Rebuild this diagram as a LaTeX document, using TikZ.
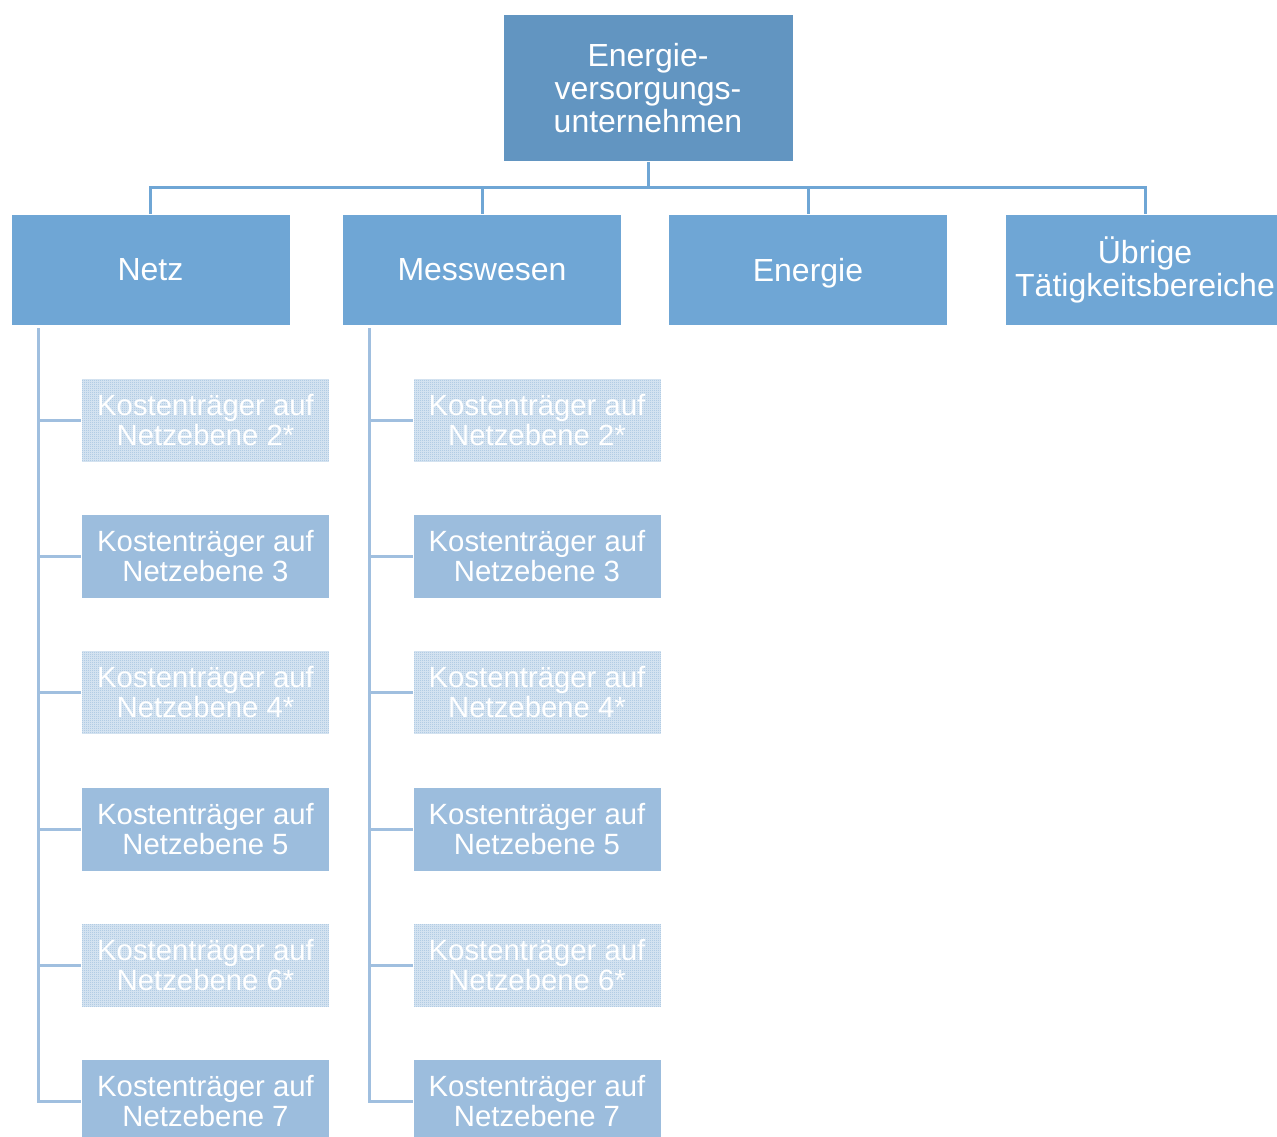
\documentclass[tikz,border=0pt]{standalone}
\usepackage{fontspec}
\setmainfont{Liberation Sans}
\usetikzlibrary{patterns}
\definecolor{evublau}{RGB}{98,149,193}
\definecolor{bereichblau}{RGB}{111,166,213}
\definecolor{ktblau}{RGB}{156,189,221}
\definecolor{baumblau}{RGB}{160,191,223}
\pgfdeclarepatternformonly{schach}{\pgfqpoint{0pt}{0pt}}{\pgfqpoint{2pt}{2pt}}{\pgfqpoint{2pt}{2pt}}{
  \pgfpathrectangle{\pgfqpoint{0pt}{0pt}}{\pgfqpoint{1pt}{1pt}}
  \pgfpathrectangle{\pgfqpoint{1pt}{1pt}}{\pgfqpoint{1pt}{1pt}}
  \pgfusepath{fill}}
\tikzset{
  evubox/.style={fill=evublau,draw=white,line width=0.6pt,text=white,align=center,
    minimum width=290,minimum height=147,inner sep=0pt,
    font=\fontsize{32}{33}\selectfont},
  bereich/.style={fill=bereichblau,draw=white,line width=0.6pt,text=white,align=center,
    minimum width=279,minimum height=111,inner sep=0pt,
    font=\fontsize{32}{33}\selectfont},
  ktbox/.style={fill=ktblau,draw=white,line width=0.6pt,text=white,align=center,
    minimum width=248,minimum height=84,inner sep=0pt,
    font=\fontsize{29.3}{30}\selectfont},
  ktgrau/.style={ktbox,fill=none,preaction={fill=ktblau!35!white},pattern=schach,pattern color=ktblau},
  stamm/.style={draw=bereichblau,line width=3pt},
  ast/.style={draw=baumblau,line width=3pt}
}
\begin{document}
\begin{tikzpicture}[x=1pt,y=-1pt,line cap=butt,line join=miter]
            \useasboundingbox (0,0) rectangle (1277,1137);
            \node[evubox] (evu) at (648,88) {Energie-\\versorgungs-\\unternehmen};
            \node[bereich] (netz) at (150.5,269.5) {Netz};
            \node[bereich] (mess) at (482,269.5) {Messwesen};
            \node[bereich,text depth=0pt] (energie) at (808,269.5) {Energie};
            \node[bereich] (uebrig) at (1145,269.5) {Übrige\\Tätigkeitsbereiche};
            \coordinate (bus) at (648,187);
            \draw [stamm] (evu.south) -- (bus);
            \draw [stamm] (bus) -| (netz.north);
            \draw [stamm] (bus) -| (mess.north);
            \draw [stamm] (bus) -| (energie.north);
            \draw [stamm] (bus) -| (uebrig.north);
            \node[ktgrau] (n2) at (205.5,420) {Kostenträger auf\\Netzebene 2*};
            \node[ktbox] (n3) at (205.5,556) {Kostenträger auf\\Netzebene 3};
            \node[ktgrau] (n4) at (205.5,692.5) {Kostenträger auf\\Netzebene 4*};
            \node[ktbox] (n5) at (205.5,829) {Kostenträger auf\\Netzebene 5};
            \node[ktgrau] (n6) at (205.5,965) {Kostenträger auf\\Netzebene 6*};
            \node[ktbox] (n7) at (205.5,1101) {Kostenträger auf\\Netzebene 7};
            \node[ktgrau] (m2) at (537,420) {Kostenträger auf\\Netzebene 2*};
            \node[ktbox] (m3) at (537,556) {Kostenträger auf\\Netzebene 3};
            \node[ktgrau] (m4) at (537,692.5) {Kostenträger auf\\Netzebene 4*};
            \node[ktbox] (m5) at (537,829) {Kostenträger auf\\Netzebene 5};
            \node[ktgrau] (m6) at (537,965) {Kostenträger auf\\Netzebene 6*};
            \node[ktbox] (m7) at (537,1101) {Kostenträger auf\\Netzebene 7};
            \coordinate (nwurzel) at (38,328);
            \coordinate (mwurzel) at (369.5,328);
            \draw [ast] (nwurzel) |- (n2.west);
            \draw [ast] (nwurzel) |- (n3.west);
            \draw [ast] (nwurzel) |- (n4.west);
            \draw [ast] (nwurzel) |- (n5.west);
            \draw [ast] (nwurzel) |- (n6.west);
            \draw [ast] (nwurzel) |- (n7.west);
            \draw [ast] (mwurzel) |- (m2.west);
            \draw [ast] (mwurzel) |- (m3.west);
            \draw [ast] (mwurzel) |- (m4.west);
            \draw [ast] (mwurzel) |- (m5.west);
            \draw [ast] (mwurzel) |- (m6.west);
            \draw [ast] (mwurzel) |- (m7.west);
        \end{tikzpicture}
\end{document}
